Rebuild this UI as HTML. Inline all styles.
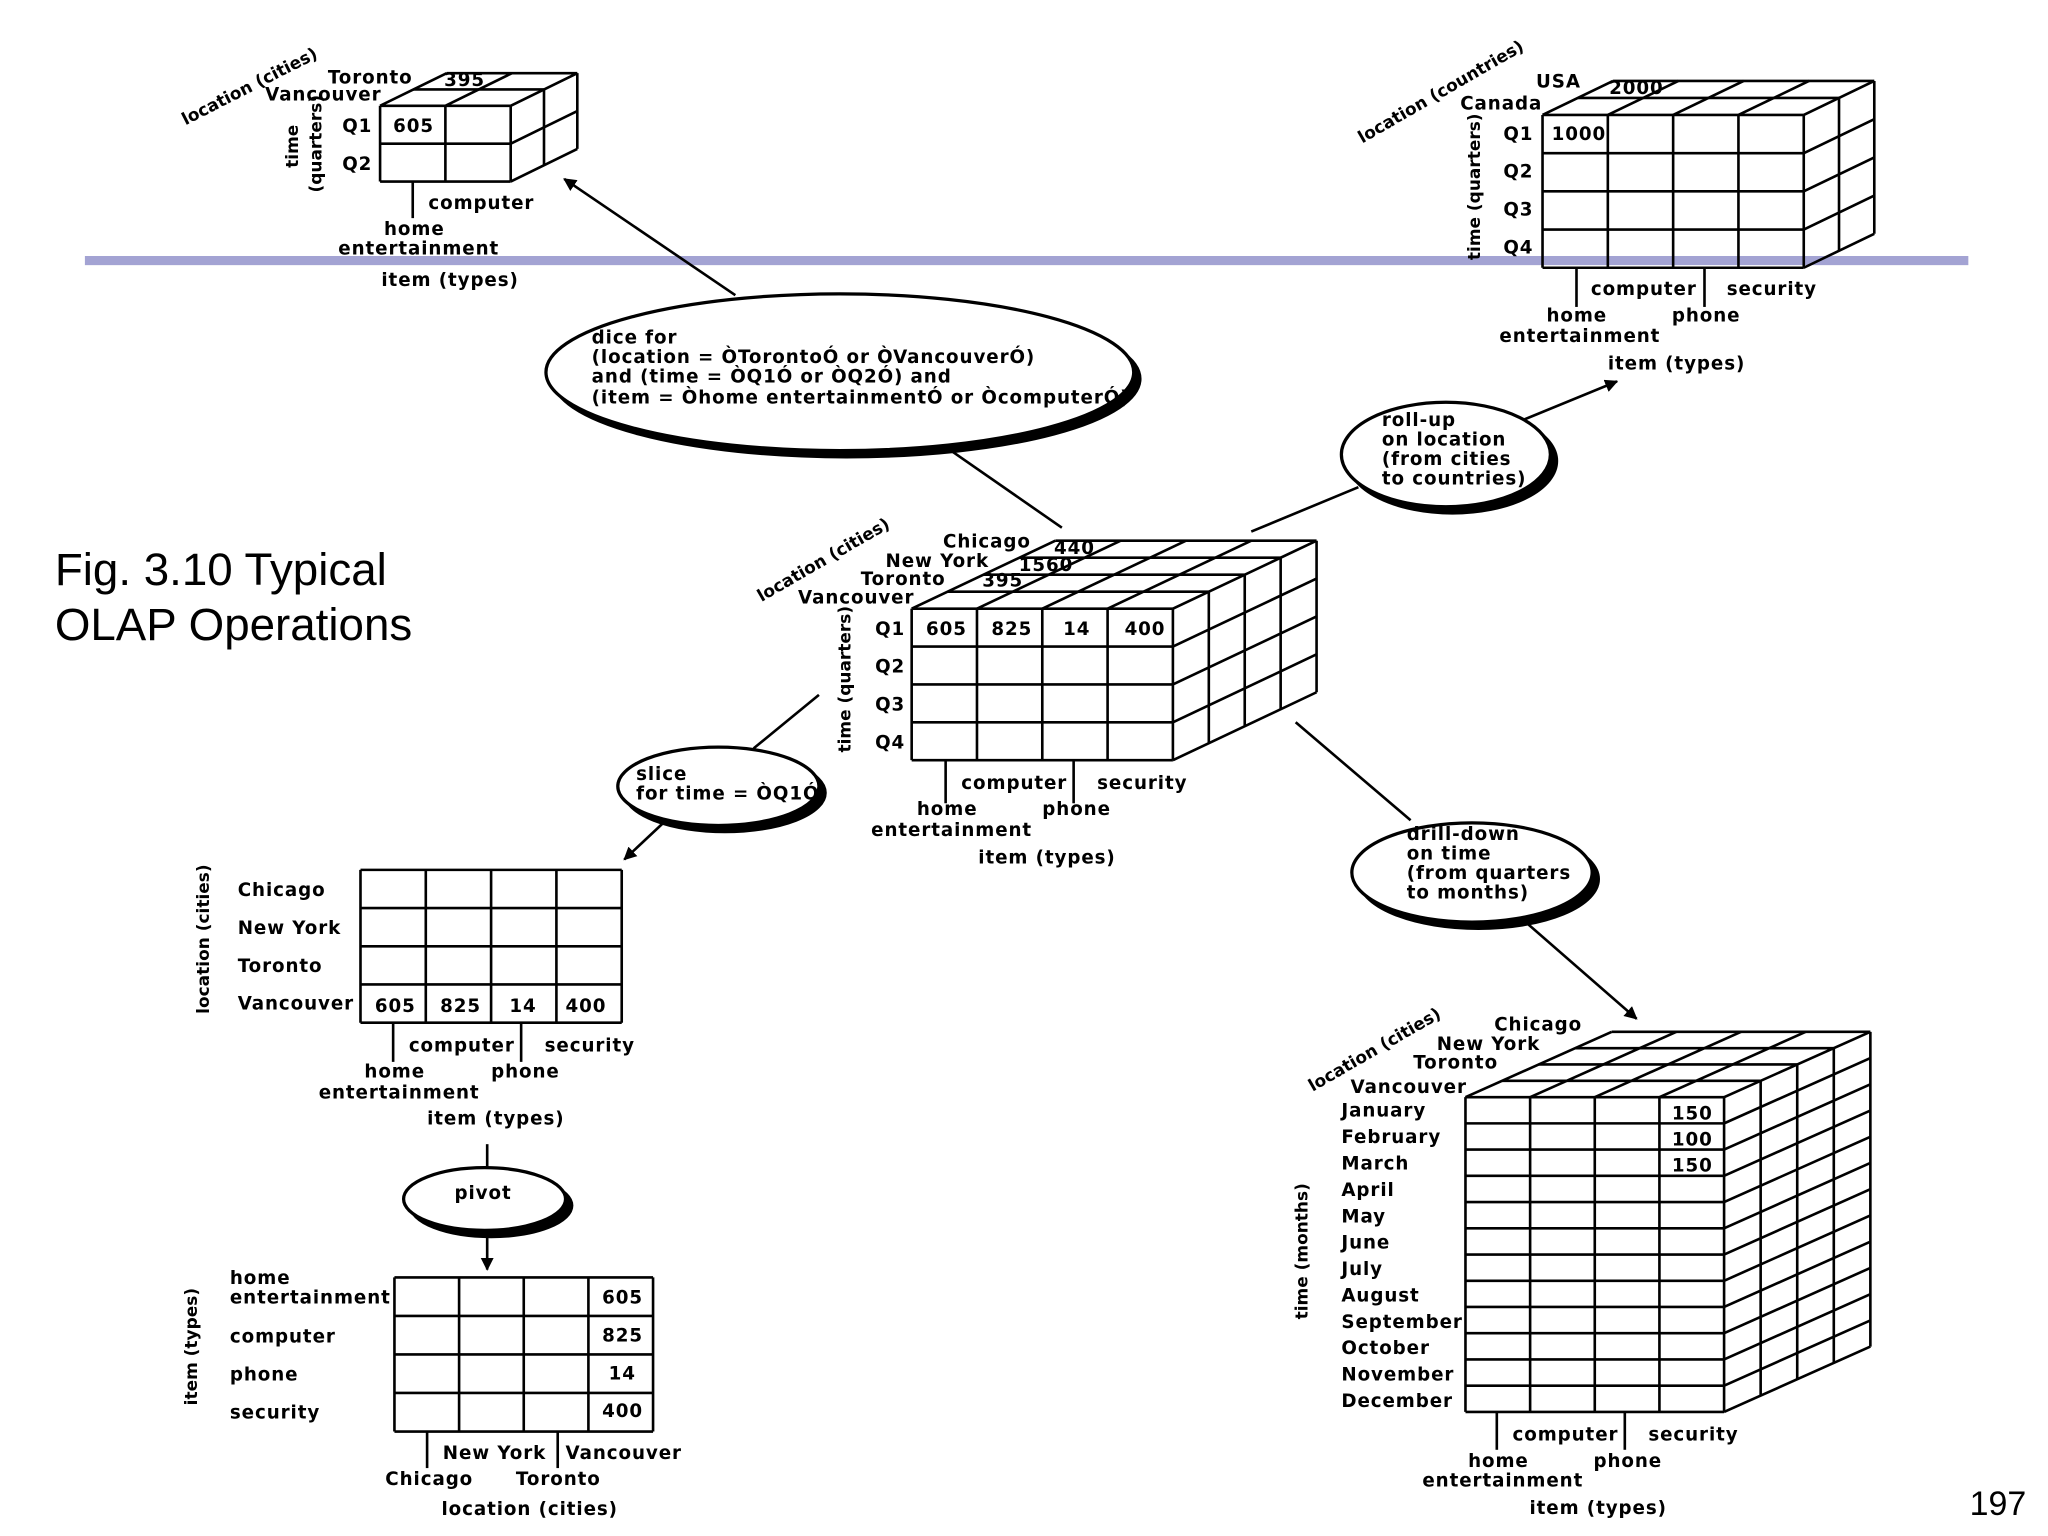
<!DOCTYPE html>
<html><head><meta charset="utf-8"><style>
html,body{margin:0;padding:0;background:#fff}
svg{display:block}
text{font-family:"DejaVu Sans","Liberation Sans",sans-serif;font-weight:bold;font-size:14px;letter-spacing:0.7px;fill:#000}
text.r{font-size:13px;letter-spacing:0}
.t{font-family:"Liberation Sans",sans-serif;font-weight:normal;font-size:35px;letter-spacing:0}
</style></head><body>
<svg id="s" width="2048" height="1536" viewBox="0 0 1568 1176" xmlns="http://www.w3.org/2000/svg">
<rect width="1568" height="1176" fill="#fff"/>
<rect x="65" y="196" width="1442" height="7" fill="#a3a3d3"/>
<text class="t" x="42" y="448">Fig. 3.10 Typical</text>
<text class="t" x="42" y="490">OLAP Operations</text>
<text class="t" x="1508" y="1160" style="font-size:26px">197</text>
<defs><marker id="ar" markerWidth="10" markerHeight="10" refX="9" refY="5" orient="auto" markerUnits="userSpaceOnUse"><path d="M0,0 L10,5 L0,10 z" fill="#000"/></marker></defs>
<g id="g" stroke="#000" stroke-width="2" fill="none"></g>
<g id="tx"></g>
</svg>
<script>
var g=document.getElementById('g'),tx=document.getElementById('tx'),NS='http://www.w3.org/2000/svg';
function L(x1,y1,x2,y2,a){var l=document.createElementNS(NS,'line');l.setAttribute('x1',x1);l.setAttribute('y1',y1);l.setAttribute('x2',x2);l.setAttribute('y2',y2);if(a)l.setAttribute('marker-end','url(#ar)');g.appendChild(l);}
function T(x,y,s,rot){var t=document.createElementNS(NS,'text');t.setAttribute('x',x);t.setAttribute('y',y);if(rot!==undefined){t.setAttribute('class','r');t.setAttribute('transform','rotate('+rot+' '+x+' '+y+')');if(rot==-90)t.setAttribute('text-anchor','middle');}t.textContent=s;tx.appendChild(t);}
function E(cx,cy,rx,ry){var e=document.createElementNS(NS,'ellipse');e.setAttribute('cx',cx+5);e.setAttribute('cy',cy+5);e.setAttribute('rx',rx);e.setAttribute('ry',ry);e.setAttribute('fill','#000');g.appendChild(e);e=document.createElementNS(NS,'ellipse');e.setAttribute('cx',cx);e.setAttribute('cy',cy);e.setAttribute('rx',rx);e.setAttribute('ry',ry);e.setAttribute('fill','#fff');e.setAttribute('stroke-width','2.5');g.appendChild(e);}
function grid(x0,y0,w,h,nc,nr){for(var i=0;i<=nc;i++)L(x0+w*i/nc,y0,x0+w*i/nc,y0+h);for(var j=0;j<=nr;j++)L(x0,y0+h*j/nr,x0+w,y0+h*j/nr);}
function cube(x0,y0,w,h,nc,nr,dx,dy,nd){grid(x0,y0,w,h,nc,nr);
 for(var i=0;i<=nc;i++){var x=x0+w*i/nc;L(x,y0,x+dx,y0+dy);}
 for(var k=1;k<=nd;k++){var ox=dx*k/nd,oy=dy*k/nd;L(x0+ox,y0+oy,x0+w+ox,y0+oy);L(x0+w+ox,y0+oy,x0+w+ox,y0+h+oy);}
 for(var j=1;j<=nr;j++){var y=y0+h*j/nr;L(x0+w,y,x0+w+dx,y+dy);}}
cube(291,81,100,58,2,2,51,-25,2);
cube(1181,88,200,117,4,4,54,-26,2);
cube(698,466,200,116,4,4,110,-52,4);
cube(1122,840,198,241,4,12,112,-50,4);
grid(276,666,200,117,4,4);
grid(302,978,198,118,4,4);
[[316,139,167],[1207,205,235],[1305,205,235],[724,582,615],[822,582,615],[301,783,813],[399,783,813],[327,1096,1124],[427,1096,1124],[1146,1081,1110],[1244,1081,1110]].forEach(function(a){L(a[0],a[1],a[0],a[2]);});
L(813,404,728,345);L(563,226,432,137,1);
L(958,407,1040,373);L(1165,322,1238,292,1);
L(627,532,577,573);L(510,628,478,658,1);
L(992,553,1080,628);L(1167,705,1253,780,1);
L(373,876,373,893);L(373,943,373,972,1);
E(643,285,225,60);E(1107,348,80,40);E(550,602,77,30);E(1127,668,92,38);E(371,918,62,24);
T(142,96,'location (cities)',-27);T(251,64,'Toronto');T(340,66,'395');T(203,77,'Vancouver');
T(228,112,'time',-90);T(246,110,'(quarters)',-90);T(262,101,'Q1');T(301,101,'605');T(262,130,'Q2');
T(328,160,'computer');T(294,180,'home');T(259,195,'entertainment');T(292,219,'item (types)');
T(1043,110,'location (countries)',-30);T(1176,67,'USA');T(1232,72,'2000');T(1118,84,'Canada');
T(1133,143,'time (quarters)',-90);T(1151,107,'Q1');T(1188,107,'1000');T(1151,136,'Q2');T(1151,165,'Q3');T(1151,194,'Q4');
T(1218,226,'computer');T(1322,226,'security');T(1184,246,'home');T(1280,246,'phone');T(1148,262,'entertainment');T(1231,283,'item (types)');
T(583,461,'location (cities)',-30);T(722,419,'Chicago');T(807,424,'440');T(678,434,'New York');T(780,437,'1560');T(659,448,'Toronto');T(752,449,'395');T(611,462,'Vancouver');
T(651,520,'time (quarters)',-90);T(670,486,'Q1');T(670,515,'Q2');T(670,544,'Q3');T(670,573,'Q4');
T(709,486,'605');T(759,486,'825');T(814,486,'14');T(861,486,'400');
T(736,604,'computer');T(840,604,'security');T(702,624,'home');T(798,624,'phone');T(667,640,'entertainment');T(749,661,'item (types)');
T(453,263,'dice for');T(453,278,'(location = ÒTorontoÓ or ÒVancouverÓ)');T(453,293,'and (time = ÒQ1Ó or ÒQ2Ó) and');T(453,309,'(item = Òhome entertainmentÓ or ÒcomputerÓ)');
T(1058,326,'roll-up');T(1058,341,'on location');T(1058,356,'(from cities');T(1058,371,'to countries)');
T(487,597,'slice');T(487,612,'for time = ÒQ1Ó');
T(1077,643,'drill-down');T(1077,658,'on time');T(1077,673,'(from quarters');T(1077,688,'to months)');
T(348,918,'pivot');
T(160,719,'location (cities)',-90);T(182,686,'Chicago');T(182,715,'New York');T(182,744,'Toronto');T(182,773,'Vancouver');
T(287,775,'605');T(337,775,'825');T(390,775,'14');T(433,775,'400');
T(313,805,'computer');T(417,805,'security');T(279,825,'home');T(376,825,'phone');T(244,841,'entertainment');T(327,861,'item (types)');
T(151,1031,'item (types)',-90);T(176,983,'home');T(176,998,'entertainment');T(176,1028,'computer');T(176,1057,'phone');T(176,1086,'security');
T(461,998,'605');T(461,1027,'825');T(466,1056,'14');T(461,1085,'400');
T(339,1117,'New York');T(433,1117,'Vancouver');T(295,1137,'Chicago');T(395,1137,'Toronto');T(338,1160,'location (cities)');
T(1005,836,'location (cities)',-30);T(1144,789,'Chicago');T(1100,804,'New York');T(1082,818,'Toronto');T(1034,837,'Vancouver');
['January','February','March','April','May','June','July','August','September','October','November','December'].forEach(function(m,i){T(1027,855+i*20.2,m);});
T(1280,857,'150');T(1280,877,'100');T(1280,897,'150');
T(1001,958,'time (months)',-90);
T(1158,1103,'computer');T(1262,1103,'security');T(1124,1123,'home');T(1220,1123,'phone');T(1089,1138,'entertainment');T(1171,1159,'item (types)');
</script>
</body></html>
